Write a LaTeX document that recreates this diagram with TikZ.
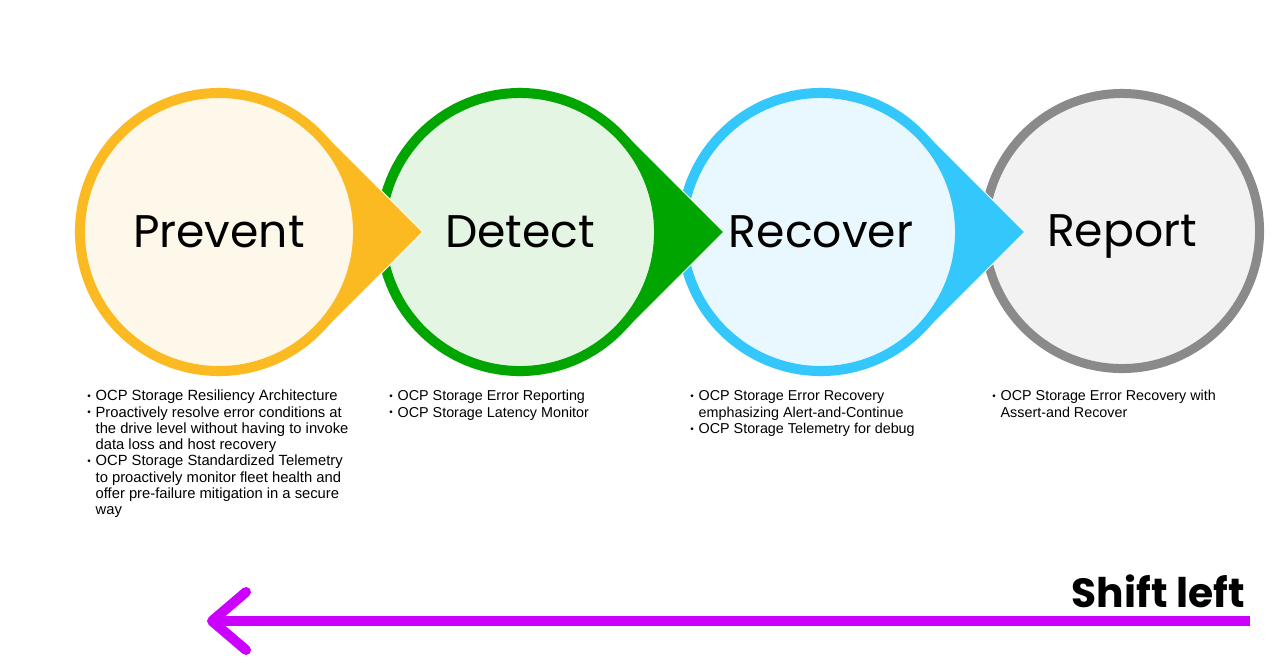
\documentclass[tikz,border=0pt]{standalone}
\usepackage{fontspec}
\setmainfont{Liberation Sans}
\newfontfamily\headfont{Poppins}
\usetikzlibrary{positioning,arrows.meta}

\definecolor{prevRing}{HTML}{FBBA21}
\definecolor{prevFill}{HTML}{FEF8EA}
\definecolor{detRing}{HTML}{00A500}
\definecolor{detFill}{HTML}{E4F5E3}
\definecolor{recRing}{HTML}{33C7FC}
\definecolor{recFill}{HTML}{E9F8FE}
\definecolor{repRing}{HTML}{8A8A8A}
\definecolor{repFill}{HTML}{F2F2F2}
\definecolor{shiftPurple}{HTML}{CC00FF}

\newcommand{\bul}{\raisebox{0.15ex}{\scriptsize\textbullet}}

\begin{document}
\begin{tikzpicture}[
x=0.025cm, y=0.025cm,
stage/.style = {circle, line width=0.25cm, inner sep=0pt,
                minimum size=6.95cm, text depth=0pt,
                font=\headfont\fontsize{32.5}{36}\selectfont},
wedge/.style = {fill=#1, draw=white, line width=0.6pt},
notes/.style = {anchor=north west, inner sep=0pt, align=left,
                font=\fontsize{10.2}{11.6}\selectfont},
shiftline/.style = {shiftPurple, line width=0.25cm,
                    -{Straight Barb[length=0.85cm, width=1.45cm, round]}}
                ]
\useasboundingbox (0,0) rectangle (1280,-666);

%% stages, right one first so each tip lies on top of the next ring
\node (rep) [stage, draw=repRing, fill=repFill, line width=0.225cm,
             minimum size=6.875cm] at (1122,-231) {Report};

\path[wedge=recRing] (821,-232) ++(45:3.6cm)
    arc[start angle=45, end angle=315, radius=3.6cm]
    -- ++(45:3.6cm) coordinate (recTip) -- cycle;
\node (rec) [stage, draw=recRing, fill=recFill] at (821,-232) {Recover};

\path[wedge=detRing] (520,-232) ++(45:3.6cm)
    arc[start angle=45, end angle=315, radius=3.6cm]
    -- ++(45:3.6cm) coordinate (detTip) -- cycle;
\node (det) [stage, draw=detRing, fill=detFill] at (520,-232) {Detect};

\path[wedge=prevRing] (219,-232) ++(45:3.6cm)
    arc[start angle=45, end angle=315, radius=3.6cm]
    -- ++(45:3.6cm) coordinate (prevTip) -- cycle;
\node (prev) [stage, draw=prevRing, fill=prevFill] at (219,-232) {Prevent};

%% notes under the stages
\node (prevNotes) [notes, font=\fontsize{10.5}{11.6}\selectfont]
      at (87,-389) {%
\begin{tabular}{@{}l@{\hspace{3.5pt}}l@{}}
\bul & OCP Storage Resiliency Architecture\\
\bul & Proactively resolve error conditions at\\
     & the drive level without having to invoke\\
     & data loss and host recovery\\
\bul & OCP Storage Standardized Telemetry\\
     & to proactively monitor fleet health and\\
     & offer pre-failure mitigation in a secure\\
     & way
\end{tabular}};
\node (detNotes) [notes] at (389,-389) {%
\begin{tabular}{@{}l@{\hspace{3.5pt}}l@{}}
\bul & OCP Storage Error Reporting\\
\bul & OCP Storage Latency Monitor
\end{tabular}};
\node (recNotes) [notes] at (690,-389) {%
\begin{tabular}{@{}l@{\hspace{3.5pt}}l@{}}
\bul & OCP Storage Error Recovery\\
     & emphasizing Alert-and-Continue\\
\bul & OCP Storage Telemetry for debug
\end{tabular}};
\node (repNotes) [notes] at (992,-389) {%
\begin{tabular}{@{}l@{\hspace{3.5pt}}l@{}}
\bul & OCP Storage Error Recovery with\\
     & Assert-and Recover
\end{tabular}};

%% shift left arrow
\coordinate (shiftR) at (1250,-621);
\coordinate (shiftL) at (207,-621);
\draw[shiftline] (shiftR) -- (shiftL);
\node (shift) [font=\headfont\bfseries\fontsize{29}{32}\selectfont,
               anchor=base east, inner sep=0pt] at (1245,-607) {Shift left};
%%
\end{tikzpicture}
\end{document}
